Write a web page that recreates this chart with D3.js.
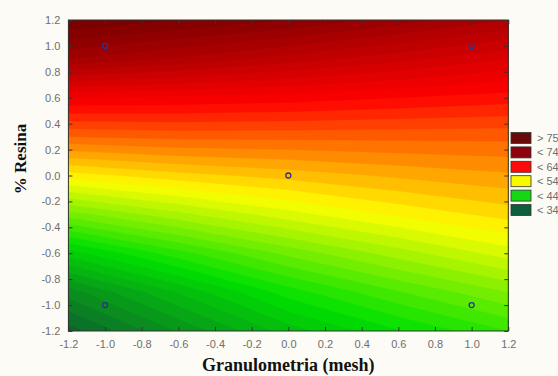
<!DOCTYPE html>
<html>
<head>
<meta charset="utf-8">
<script src="https://cdn.jsdelivr.net/npm/d3@7"></script>
<style>
  body { margin: 0; background: #fdfbf6; }
  svg { display: block; }
</style>
</head>
<body>
<div id="chart"></div>
<script>
var gridX = [-1.2, -0.6, 0.0, 0.6, 1.2];
var gridY = [1.2, 0.9, 0.6, 0.3, 0.0, -0.3, -0.6, -0.9, -1.2]; // top to bottom
// one row per gridY, one value per gridX
var surface = [
  [76.0, 75.0, 74.0, 72.5, 71.0],
  [72.0, 70.8, 69.5, 68.3, 67.0],
  [65.0, 64.8, 64.5, 64.0, 63.5],
  [60.0, 60.3, 60.3, 60.3, 60.3],
  [54.5, 55.6, 56.4, 57.2, 57.8],
  [48.5, 50.7, 52.6, 54.2, 55.4],
  [42.5, 45.6, 48.3, 50.5, 52.5],
  [37.5, 41.1, 44.5, 46.9, 49.0],
  [34.5, 38.1, 41.5, 43.9, 46.0]
];
// design points
var pointsX = [-1, 1, 0, -1, 1];
var pointsY = [1, 1, 0, -1, -1];

var ticks = [-1.2, -1.0, -0.8, -0.6, -0.4, -0.2, 0.0, 0.2, 0.4, 0.6, 0.8, 1.0, 1.2];

var legendLabels = ["> 75", "< 74", "< 64", "< 54", "< 44", "< 34"];
var legendColors = ["#6b0a0a", "#8c0010", "#ff0a0a", "#f8f800", "#14d814", "#0d5e3a"];

var colorStops = [34, 44, 54, 64, 74, 77];
var colorRange = ["#0f5f30", "#00e000", "#ffff00", "#ff0000", "#8b0000", "#6b0000"];

var width = 558, height = 376;
var plot = {left: 68.4, right: 508.3, top: 20, bottom: 331};

var svg = d3.select("#chart").append("svg")
    .attr("width", width)
    .attr("height", height);

var x = d3.scaleLinear().domain([-1.2, 1.2]).range([plot.left, plot.right]);
var y = d3.scaleLinear().domain([-1.2, 1.2]).range([plot.bottom, plot.top]);

var color = d3.scaleLinear().domain(colorStops).range(colorRange).clamp(true);

// contour bands
var nx = gridX.length, ny = gridY.length;
var values = [];
surface.forEach(function (row) { row.forEach(function (v) { values.push(v); }); });

var thresholds = d3.range(30, 80, 1);
var contours = d3.contours().size([nx, ny]).thresholds(thresholds)(values);

var stepX = gridX[1] - gridX[0], stepY = gridY[1] - gridY[0];
// d3.contours puts sample i at grid coordinate i + 0.5
var proj = d3.geoTransform({
  point: function (gx, gy) {
    this.stream.point(x(gridX[0] + (gx - 0.5) * stepX), y(gridY[0] + (gy - 0.5) * stepY));
  }
});

svg.append("clipPath").attr("id", "plotclip")
  .append("rect")
    .attr("x", plot.left).attr("y", plot.top)
    .attr("width", plot.right - plot.left).attr("height", plot.bottom - plot.top);

svg.append("g")
    .attr("clip-path", "url(#plotclip)")
  .selectAll("path")
  .data(contours)
  .enter().append("path")
    .attr("d", d3.geoPath(proj))
    .attr("fill", function (d) { return color(d.value + 0.5); })
    .attr("stroke", function (d) { return color(d.value + 0.5); })
    .attr("stroke-width", 0.3);

// frame
svg.append("rect")
    .attr("x", plot.left).attr("y", plot.top)
    .attr("width", plot.right - plot.left).attr("height", plot.bottom - plot.top)
    .attr("fill", "none")
    .attr("stroke", "#333")
    .attr("stroke-width", 1);

var fmt = function (d) { return d.toFixed(1); };

// axes: inward ticks on all four sides
var axB = svg.append("g").attr("transform", "translate(0," + plot.bottom + ")")
    .call(d3.axisBottom(x).tickValues(ticks).tickSize(-4).tickPadding(9).tickFormat(fmt));
var axL = svg.append("g").attr("transform", "translate(" + plot.left + ",0)")
    .call(d3.axisLeft(y).tickValues(ticks).tickSize(-4).tickPadding(8).tickFormat(fmt));
var axT = svg.append("g").attr("transform", "translate(0," + plot.top + ")")
    .call(d3.axisTop(x).tickValues(ticks).tickSize(-4).tickFormat(""));
var axR = svg.append("g").attr("transform", "translate(" + plot.right + ",0)")
    .call(d3.axisRight(y).tickValues(ticks).tickSize(-4).tickFormat(""));

[axB, axL, axT, axR].forEach(function (a) {
  a.select(".domain").remove();
  a.selectAll(".tick line").attr("stroke", "#333");
  a.selectAll("text")
    .attr("fill", "#6e6e6e")
    .style("font-family", "Liberation Sans, Arial, sans-serif")
    .style("font-size", "11px");
});

// design points
svg.append("g").selectAll("circle")
  .data(pointsX.map(function (px, i) { return [px, pointsY[i]]; }))
  .enter().append("circle")
    .attr("cx", function (d) { return x(d[0]); })
    .attr("cy", function (d) { return y(d[1]); })
    .attr("r", 2.5)
    .attr("fill", "none")
    .attr("stroke", "#2a3590")
    .attr("stroke-width", 1.3);

// axis titles
svg.append("text")
    .attr("x", (plot.left + plot.right) / 2)
    .attr("y", 371)
    .attr("text-anchor", "middle")
    .style("font-family", "Liberation Serif, Times New Roman, serif")
    .style("font-weight", "bold")
    .style("font-size", "18px")
    .attr("fill", "#111")
    .text("Granulometria (mesh)");

svg.append("text")
    .attr("transform", "translate(26,159) rotate(-90)")
    .attr("text-anchor", "middle")
    .style("font-family", "Liberation Serif, Times New Roman, serif")
    .style("font-weight", "bold")
    .style("font-size", "17px")
    .attr("fill", "#111")
    .text("% Resina");

// legend
var lg = svg.append("g").selectAll("g")
  .data(legendLabels)
  .enter().append("g")
    .attr("transform", function (d, i) { return "translate(511," + (132.5 + i * 14.4) + ")"; });

lg.append("rect")
    .attr("width", 20).attr("height", 11)
    .attr("fill", function (d, i) { return legendColors[i]; })
    .attr("stroke", "#333")
    .attr("stroke-width", 0.8);

lg.append("text")
    .attr("x", 26).attr("y", 9.5)
    .attr("fill", "#6e6e6e")
    .style("font-family", "Liberation Sans, Arial, sans-serif")
    .style("font-size", "11px")
    .text(function (d) { return d; });
</script>
</body>
</html>
